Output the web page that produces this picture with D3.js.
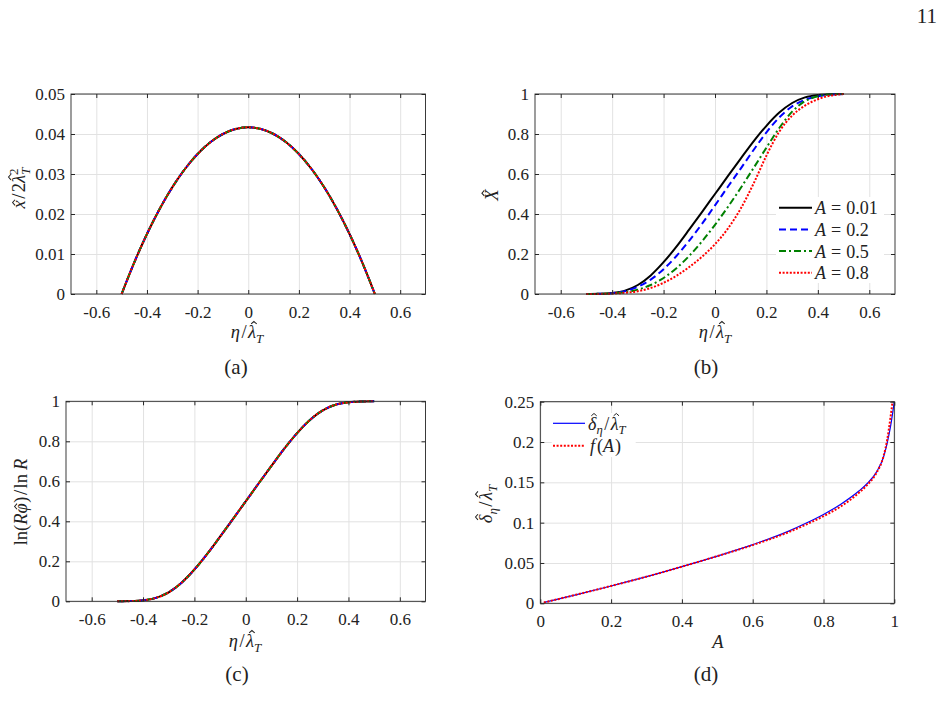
<html>
<head>
  <script src="https://d3js.org/d3.v7.min.js"></script>
  <style>
    body { margin: 0; background: #fff; }
    .gridlines line { stroke: #e2e2e2; }
    .gridlines .domain { stroke: none; }
    .axis .domain { stroke: none; }
    .axis line { stroke: #262626; }
  </style>
</head>
<body>
<svg id="fig" width="942" height="712"></svg>
<script>
// ---- data ----
const etaTicks = [-0.6, -0.4, -0.2, 0, 0.2, 0.4, 0.6];
const unitTicks = [0, 0.2, 0.4, 0.6, 0.8, 1];
const xhatTicks = [0, 0.01, 0.02, 0.03, 0.04, 0.05];
const deltaTicks = [0, 0.05, 0.1, 0.15, 0.2, 0.25];

const eta = [-0.5, -0.45, -0.4, -0.35, -0.3, -0.25, -0.2, -0.15, -0.1, -0.05, 0,
             0.05, 0.1, 0.15, 0.2, 0.25, 0.3, 0.35, 0.4, 0.45, 0.5];

// (a) x^/2lambda^2 (all A values collapse onto one curve)
const xhat = [0, 0.00792, 0.015, 0.02125, 0.02667, 0.03125, 0.035, 0.03792, 0.04, 0.04125, 0.04167,
              0.04125, 0.04, 0.03792, 0.035, 0.03125, 0.02667, 0.02125, 0.015, 0.00792, 0];

// (b) X^ for several A
const legendLabels = ["0.01", "0.2", "0.5", "0.8"];
const X001 = [0, 0.001, 0.005, 0.017, 0.045, 0.093, 0.159, 0.237, 0.323, 0.411, 0.5,
              0.589, 0.677, 0.763, 0.841, 0.907, 0.955, 0.983, 0.995, 0.999, 1];
const X02  = [0, 0.001, 0.004, 0.014, 0.036, 0.072, 0.124, 0.19, 0.267, 0.352, 0.443,
              0.536, 0.627, 0.72, 0.808, 0.883, 0.938, 0.971, 0.989, 0.997, 1];
const X05  = [0, 0.001, 0.003, 0.009, 0.022, 0.045, 0.08, 0.129, 0.191, 0.264, 0.346,
              0.435, 0.53, 0.63, 0.732, 0.83, 0.912, 0.964, 0.989, 0.999, 1];
const X08  = [0, 0.0005, 0.002, 0.006, 0.014, 0.03, 0.056, 0.091, 0.135, 0.187, 0.249,
              0.327, 0.427, 0.552, 0.692, 0.812, 0.892, 0.942, 0.974, 0.992, 1];

// (c) ln(R phi)/ln R
const lnRphi = [0, 0.001, 0.005, 0.017, 0.045, 0.093, 0.159, 0.237, 0.323, 0.411, 0.5,
                0.589, 0.677, 0.763, 0.841, 0.907, 0.955, 0.983, 0.995, 0.999, 1];

// (d) delta/lambda vs A and fit f(A)
const Avals  = [0.01, 0.1, 0.2, 0.3, 0.4, 0.5, 0.6, 0.7, 0.75, 0.8, 0.85, 0.9, 0.925, 0.95, 0.97, 0.98, 0.99, 0.995, 1.0];
const deltaA = [0.001, 0.0105, 0.0215, 0.033, 0.0455, 0.0585, 0.0727, 0.0892, 0.0992, 0.1102, 0.1232, 0.1392, 0.1492, 0.163, 0.182, 0.199, 0.221, 0.235, 0.25];
const AvalsF = [0.01, 0.1, 0.2, 0.3, 0.4, 0.5, 0.6, 0.7, 0.75, 0.8, 0.85, 0.9, 0.925, 0.95, 0.97, 0.98, 0.99, 0.995];
const fA     = [0.001, 0.0105, 0.0215, 0.033, 0.0455, 0.0585, 0.0722, 0.088, 0.0975, 0.108, 0.1205, 0.137, 0.1475, 0.162, 0.183, 0.203, 0.233, 0.25];

const styles = [
  {color: "#000000", w: 2, dash: null},
  {color: "#0000ff", w: 2, dash: "7,4"},
  {color: "#008000", w: 2, dash: "7,3,2,3"},
  {color: "#ff0000", w: 2, dash: "2,1.6"}
];

const FONT = "'Liberation Serif', 'Times New Roman', serif";
const INK = "#222222";
const svg = d3.select("svg#fig");

function makePanel(id, box, xDom, yDom, xTicks, yTicks) {
  const w = box.right - box.left, h = box.bottom - box.top;
  const g = svg.append("g").attr("id", id).attr("transform", "translate(" + box.left + "," + box.top + ")");
  const x = d3.scaleLinear().domain(xDom).range([0, w]);
  const y = d3.scaleLinear().domain(yDom).range([h, 0]);

  g.append("g").attr("class", "gridlines").attr("transform", "translate(0," + h + ")")
    .call(d3.axisBottom(x).tickValues(xTicks).tickSize(-h).tickFormat(""));
  g.append("g").attr("class", "gridlines")
    .call(d3.axisLeft(y).tickValues(yTicks).tickSize(-w).tickFormat(""));

  svg.append("clipPath").attr("id", "clip-" + id)
    .append("rect").attr("x", -2).attr("y", -2).attr("width", w + 4).attr("height", h + 4);
  const plot = g.append("g").attr("clip-path", "url(#clip-" + id + ")");

  const fmt = d => String(d);
  const bx = g.append("g").attr("class", "axis").attr("transform", "translate(0," + h + ")")
    .call(d3.axisBottom(x).tickValues(xTicks).tickSize(-4).tickPadding(11.5).tickFormat(fmt));
  const ly = g.append("g").attr("class", "axis")
    .call(d3.axisLeft(y).tickValues(yTicks).tickSize(-4).tickPadding(6).tickFormat(fmt));
  g.append("g").attr("class", "axis")
    .call(d3.axisTop(x).tickValues(xTicks).tickSize(-4).tickFormat(""));
  g.append("g").attr("class", "axis").attr("transform", "translate(" + w + ",0)")
    .call(d3.axisRight(y).tickValues(yTicks).tickSize(-4).tickFormat(""));
  [bx, ly].forEach(a => a.selectAll("text")
    .style("font-family", FONT).style("font-size", "17px").style("fill", INK));
  g.append("rect").attr("width", w).attr("height", h)
    .attr("fill", "none").attr("stroke", "#262626").attr("stroke-width", 0.9);

  return {g: g, x: x, y: y, w: w, h: h, plot: plot};
}

function drawLine(p, xs, ys, st) {
  p.plot.append("path")
    .datum(d3.zip(xs, ys))
    .attr("d", d3.line().x(d => p.x(d[0])).y(d => p.y(d[1])).curve(d3.curveMonotoneX))
    .attr("fill", "none")
    .attr("stroke", st.color)
    .attr("stroke-width", st.w)
    .attr("stroke-dasharray", st.dash);
}

// math-ish text: parts {t, i (italic), s (baseline offset px), sz (scale), dx, hat (glyph height in em)}
function mathText(x, y, parts, size, opts) {
  opts = opts || {};
  const g = svg.append("g")
    .attr("transform", "translate(" + x + "," + y + ")" + (opts.rotate ? " rotate(-90)" : ""));
  const t = g.append("text")
    .style("font-family", FONT).style("font-size", size + "px").style("fill", INK)
    .attr("text-anchor", opts.anchor || "middle");
  let shift = 0, idx = 0;
  const hats = [];
  parts.forEach(p => {
    const ts = t.append("tspan").text(p.t);
    if (p.i) ts.style("font-style", "italic");
    const target = p.s || 0;
    if (target !== shift) ts.attr("dy", target - shift);
    shift = target;
    if (p.sz) ts.style("font-size", (size * p.sz) + "px");
    if (p.dx) ts.attr("dx", p.dx);
    if (p.hat) hats.push({idx: idx, s: target, fs: size * (p.sz || 1), h: p.hat, i: p.i});
    idx += p.t.length;
  });
  hats.forEach(hh => {
    const ext = t.node().getExtentOfChar(hh.idx);
    const fs = hh.fs;
    const cx = ext.x + ext.width / 2 + (hh.i ? 0.1 * fs : 0);
    const bot = hh.s - hh.h * fs - 0.08 * fs;
    g.append("path")
      .attr("d", "M" + (cx - 0.15 * fs) + "," + bot + "L" + cx + "," + (bot - 0.13 * fs) + "L" + (cx + 0.15 * fs) + "," + bot)
      .attr("fill", "none").attr("stroke", INK).attr("stroke-width", 0.055 * fs);
  });
  return g;
}

const etaLabel = [{t: "\u03B7", i: true}, {t: "/", dx: 1.5}, {t: "\u03BB", i: true, hat: 0.68, dx: 1.5},
  {t: "T", i: true, s: 4.5, sz: 0.7}];

// ---- panel (a) ----
const pa = makePanel("a", {left: 71, right: 425.5, top: 94, bottom: 294}, [-0.7, 0.7], [0, 0.05], etaTicks, xhatTicks);
styles.forEach(st => drawLine(pa, eta, xhat, st));
mathText(25, 188, [{t: "x", i: true, hat: 0.46}, {t: "/", dx: 1.5}, {t: "2", dx: 1.5}, {t: "\u03BB", i: true, hat: 0.68},
  {t: "2", s: -7.5, sz: 0.7}, {t: "T", i: true, s: 4.5, sz: 0.7, dx: -6.3}], 18.5, {rotate: true});
mathText(247, 338, etaLabel, 18.5);
mathText(236, 374, [{t: "(a)"}], 21);

// ---- panel (b) ----
const pb = makePanel("b", {left: 535, right: 895, top: 94, bottom: 294}, [-0.7, 0.7], [0, 1], etaTicks, unitTicks);
[X001, X02, X05, X08].forEach((ser, i) => drawLine(pb, eta, ser, styles[i]));
mathText(498, 195, [{t: "X", i: true, hat: 0.66}], 18.5, {rotate: true});
mathText(715, 338, etaLabel, 18.5);
mathText(706, 374, [{t: "(b)"}], 21);

const legB = svg.append("g").attr("id", "legend-b");
legB.append("rect").attr("x", 776).attr("y", 197).attr("width", 108).attr("height", 86).attr("fill", "#fff");
legendLabels.forEach((lab, i) => {
  const yy = 207.7 + i * 21.7;
  legB.append("line").attr("x1", 779).attr("x2", 812).attr("y1", yy).attr("y2", yy)
    .attr("stroke", styles[i].color).attr("stroke-width", styles[i].w).attr("stroke-dasharray", styles[i].dash);
  mathText(815, yy + 6.5, [{t: "A", i: true}, {t: "=", dx: 5}, {t: lab, dx: 5}], 18, {anchor: "start"});
});

// ---- panel (c) ----
const pc = makePanel("c", {left: 66, right: 425.5, top: 401.3, bottom: 601.3}, [-0.7, 0.7], [0, 1], etaTicks, unitTicks);
styles.forEach(st => drawLine(pc, eta, lnRphi, st));
mathText(27, 502, [{t: "ln("}, {t: "R", i: true}, {t: "\u03C6", i: true, hat: 0.46}, {t: ")", dx: 0.5},
  {t: "/", dx: 1.5}, {t: "ln", dx: 1.5}, {t: "R", i: true, dx: 4}], 18.5, {rotate: true});
mathText(245, 647, etaLabel, 18.5);
mathText(237, 681, [{t: "(c)"}], 21);

// ---- panel (d) ----
const pd = makePanel("d", {left: 540.3, right: 894.3, top: 401.7, bottom: 603.3}, [0, 1], [0, 0.25], unitTicks, deltaTicks);
drawLine(pd, Avals, deltaA, {color: "#0000ff", w: 1.2, dash: null});
drawLine(pd, AvalsF, fA, {color: "#ff0000", w: 2, dash: "2,1.6"});
const deltaLabel = [{t: "\u03B4", i: true, hat: 0.68}, {t: "\u03B7", i: true, s: 4.5, sz: 0.7}, {t: "/", s: 0, dx: 1.5},
  {t: "\u03BB", i: true, hat: 0.68, dx: 1.5}, {t: "T", i: true, s: 4.5, sz: 0.7}];
mathText(492, 504, deltaLabel, 18.5, {rotate: true});
mathText(718, 648, [{t: "A", i: true}], 18.5);
mathText(706, 681, [{t: "(d)"}], 21);

const legD = svg.append("g").attr("id", "legend-d");
legD.append("rect").attr("x", 551.7).attr("y", 413).attr("width", 84).attr("height", 44).attr("fill", "#fff");
legD.append("line").attr("x1", 553).attr("x2", 585).attr("y1", 423.3).attr("y2", 423.3)
  .attr("stroke", "#0000ff").attr("stroke-width", 1.2);
legD.append("line").attr("x1", 553).attr("x2", 585).attr("y1", 445.7).attr("y2", 445.7)
  .attr("stroke", "#ff0000").attr("stroke-width", 2).attr("stroke-dasharray", "2,1.6");
mathText(588, 429.5, deltaLabel, 18, {anchor: "start"});
mathText(590, 452, [{t: "f", i: true}, {t: "(", dx: 2}, {t: "A", i: true}, {t: ")", dx: 1}], 18, {anchor: "start"});

// page number
mathText(937, 23, [{t: "11"}], 21, {anchor: "end"});
</script>
</body>
</html>
